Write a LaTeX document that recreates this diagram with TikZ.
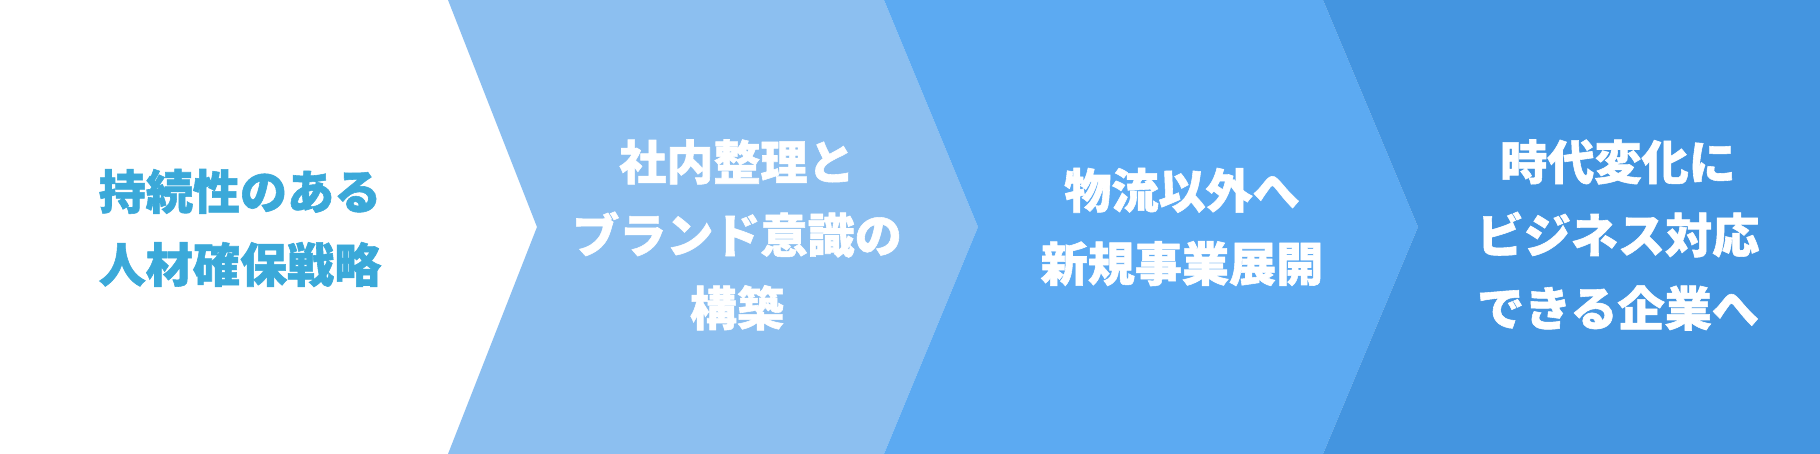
\documentclass[tikz,border=0pt]{standalone}
\usepackage{fontspec}
\newfontfamily\jpfont{Noto Sans CJK JP}[BoldFeatures={FakeBold=1.2}]
\definecolor{cteal}{HTML}{3BA9D9}
\definecolor{cone}{HTML}{8CBFF0}
\definecolor{ctwo}{HTML}{5CAAF2}
\definecolor{cthree}{HTML}{4495E0}
\tikzset{
  label/.style={align=center, inner sep=0pt, font=\jpfont\bfseries\fontsize{13.4pt}{20.8pt}\selectfont},
}
\begin{document}
\begin{tikzpicture}[x=0.1mm, y=-0.1mm]
\useasboundingbox (0,0) rectangle (1820,454);
\fill[white] (0,0) -- (448,0) -- (537,227) -- (448,454) -- (0,454) -- cycle;
\fill[cone] (448,0) -- (884,0) -- (978,227) -- (884,454) -- (448,454) -- (537,227) -- cycle;
\fill[ctwo] (884,0) -- (1323,0) -- (1418,227) -- (1323,454) -- (884,454) -- (978,227) -- cycle;
\fill[cthree] (1323,0) -- (1820,0) -- (1820,454) -- (1323,454) -- (1418,227) -- cycle;
\node[label, text=cteal] (s1) at (240,228) {持続性のある\\人材確保戦略};
\node[label, text=white] (s2) at (737,235) {社内整理と\\ブランド意識の\\構築};
\node[label, text=white] (s3) at (1182,227) {物流以外へ\\新規事業展開};
\node[label, text=white] (s4) at (1618,235) {時代変化に\\ビジネス対応\\できる企業へ};
\end{tikzpicture}
\end{document}
